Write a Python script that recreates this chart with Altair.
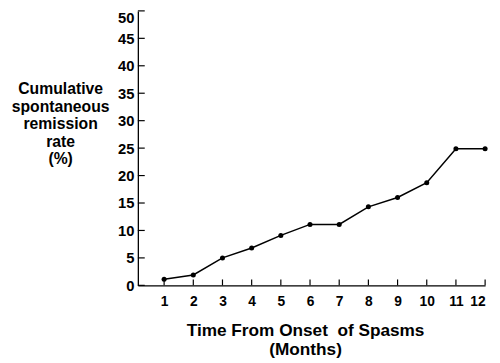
import altair as alt
import pandas as pd

# ---- data ----
months = [1, 2, 3, 4, 5, 6, 7, 8, 9, 10, 11, 12]
rate = [1.1, 1.9, 5.0, 6.8, 9.1, 11.1, 11.1, 14.3, 16.0, 18.7, 24.9, 24.9]
y_tick_values = [0, 5, 10, 15, 20, 25, 30, 35, 40, 45, 50]
x_tick_values = [1, 2, 3, 4, 5, 6, 7, 8, 9, 10, 11, 12]
x_title = ["Time From Onset\u00a0 of Spasms", "(Months)"]
y_title = ["Cumulative", "spontaneous", "remission", "rate", "(%)"]

FONT = "Liberation Sans"
W, H = 353, 279

df = pd.DataFrame({"month": months, "rate": rate})
df_yt = pd.DataFrame({"rate": y_tick_values})
df_xt = pd.DataFrame({"month": x_tick_values})

x_scale = alt.Scale(domain=[0.1, 12], nice=False, zero=False)
y_scale = alt.Scale(domain=[0, 50], nice=False)

x_axis = alt.Axis(
    values=x_tick_values, ticks=False, grid=False, domainColor="black",
    domainWidth=1.3, labelFont=FONT, labelFontSize=14, labelFontWeight="bold",
    labelColor="black", labelPadding=9,
    title=x_title, titleFont=FONT, titleFontSize=17.5, titleFontWeight="bold",
    titleColor="black", titleAlign="center", titleBaseline="alphabetic",
    titleLineHeight=19, titleX=170, titleY=51,
)
y_axis = alt.Axis(
    values=y_tick_values, ticks=False, grid=False, domainColor="black",
    domainWidth=1.3, labelFont=FONT, labelFontSize=15, labelFontWeight="bold",
    labelColor="black", labelPadding=4,
    labelBaseline={"condition": {"test": "datum.value == 50", "value": "top"}, "value": "middle"},
    title=y_title, titleFont=FONT, titleFontSize=16, titleFontWeight="bold",
    titleColor="black", titleAngle=0, titleAlign="center", titleBaseline="alphabetic",
    titleLineHeight=17.8, titleX=-79, titleY=84,
)

line = alt.Chart(df).mark_line(color="black", strokeWidth=1.5).encode(
    x=alt.X("month:Q", scale=x_scale, axis=x_axis),
    y=alt.Y("rate:Q", scale=y_scale, axis=y_axis),
)
points = alt.Chart(df).mark_circle(color="black", size=26, opacity=1).encode(
    x=alt.X("month:Q", scale=x_scale, axis=x_axis),
    y=alt.Y("rate:Q", scale=y_scale, axis=y_axis),
)
y_ticks = alt.Chart(df_yt).mark_rule(color="black", strokeWidth=1.2).encode(
    y=alt.Y("rate:Q", scale=y_scale, axis=y_axis),
    x=alt.value(0),
    x2=alt.value(7),
)
x_ticks = alt.Chart(df_xt).mark_rule(color="black", strokeWidth=1.2).encode(
    x=alt.X("month:Q", scale=x_scale, axis=x_axis),
    y=alt.value(H),
    y2=alt.value(H - 6),
)

chart = alt.layer(y_ticks, x_ticks, line, points).properties(
    width=W, height=H,
    autosize="none",
    padding={"left": 132, "top": 0, "right": 7, "bottom": 76},
    background="white",
).configure_view(stroke=None)

chart.save("out.html", embed_options={"renderer": "svg", "actions": False})
